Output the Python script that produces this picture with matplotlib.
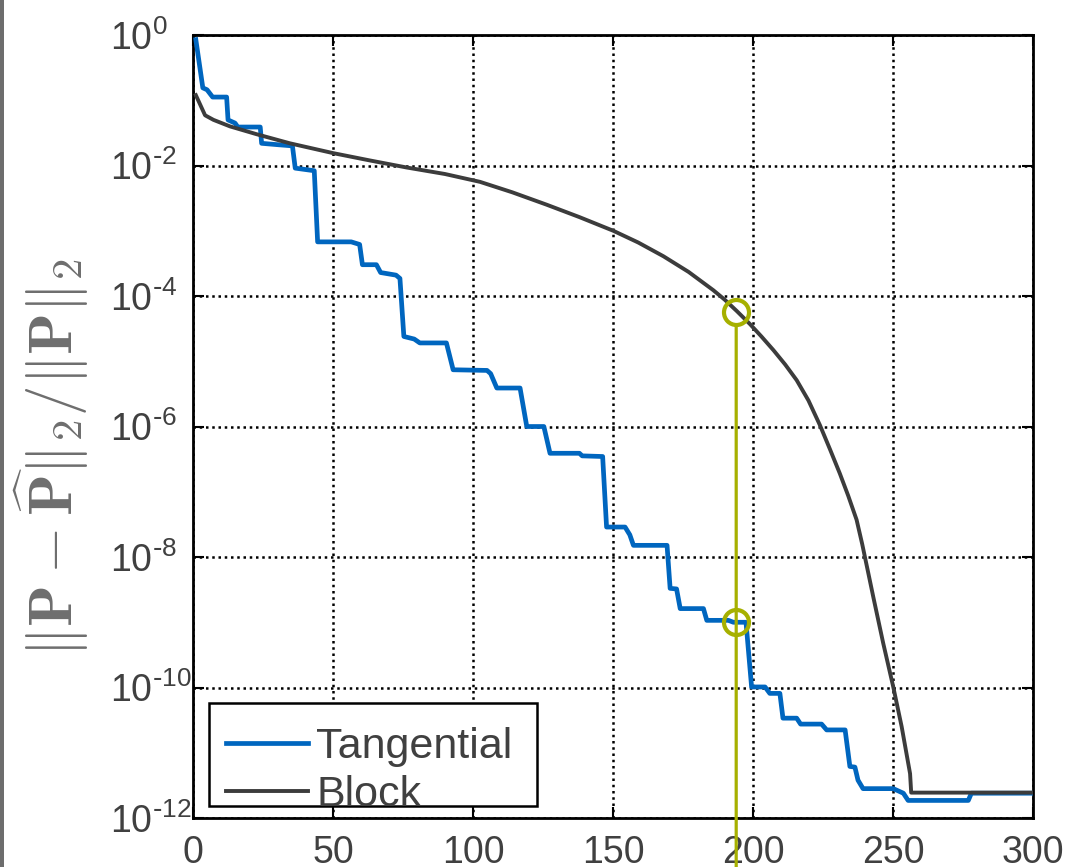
import numpy as np
import matplotlib
matplotlib.use('Agg')
import matplotlib.pyplot as plt
from matplotlib.patches import Rectangle
from matplotlib.ticker import NullLocator, FuncFormatter

plt.rcParams['font.family'] = ['Liberation Sans', 'DejaVu Sans']

# Tangential (blue staircase)
tang_x = [1, 3.5, 5, 7, 12, 12.5, 15, 16, 24, 24.5, 30, 35.5, 36.5, 43.3, 44.5, 56.5,
          59.5, 60.5, 65.5, 67, 72.5, 73.9, 75.3, 79, 81, 90.5, 92.9, 105, 106.3, 108.5,
          116.8, 119.2, 125.3, 127.5, 138, 139, 146.3, 147.7, 154.3, 156, 157.3, 169.3,
          170.4, 172.7, 174, 182.3, 183.5, 191.2, 193, 197.5, 199.5, 204.3, 206, 209.6,
          210.7, 215.6, 217, 224.5, 226.3, 232.9, 234.6, 236.4, 237.5, 239.3, 250.1,
          253.7, 255.4, 276.9, 278, 300]
tang_y = [8.5e-1, 1.55e-1, 1.45e-1, 1.12e-1, 1.12e-1, 5.0e-2, 4.47e-2, 3.89e-2, 3.89e-2,
          2.19e-2, 2.09e-2, 2.0e-2, 9.12e-3, 8.32e-3, 6.76e-4, 6.76e-4, 6.17e-4, 3.02e-4,
          3.02e-4, 2.29e-4, 2.09e-4, 1.86e-4, 2.40e-5, 2.19e-5, 1.91e-5, 1.91e-5, 7.41e-6,
          7.24e-6, 6.46e-6, 3.89e-6, 3.89e-6, 1.0e-6, 1.0e-6, 3.89e-7, 3.89e-7, 3.55e-7,
          3.47e-7, 2.88e-8, 2.88e-8, 2.19e-8, 1.51e-8, 1.51e-8, 3.31e-9, 3.24e-9, 1.62e-9,
          1.62e-9, 1.07e-9, 1.07e-9, 1.0e-9, 1.0e-9, 1.02e-10, 1.02e-10, 8.13e-11, 8.13e-11,
          3.39e-11, 3.39e-11, 2.75e-11, 2.75e-11, 2.24e-11, 2.24e-11, 6.17e-12, 6.03e-12,
          3.80e-12, 2.82e-12, 2.82e-12, 2.40e-12, 1.86e-12, 1.86e-12, 2.40e-12, 2.40e-12]

# Block (dark smooth curve)
block_x = [1, 4.3, 7.3, 13.2, 22.7, 34.6, 50, 63, 76.3, 90, 102.5, 114, 126.3, 138,
           150.1, 159, 168, 177, 185.8, 190, 194.2, 198.9, 203, 207.3, 211.5, 215.6,
           219.8, 223.9, 227.5, 231, 234, 237, 239, 241.2, 243, 246.5, 250.1, 253.1,
           256.1, 256.5, 300]
block_y = [1.20e-1, 5.89e-2, 5.01e-2, 3.98e-2, 3.02e-2, 2.19e-2, 1.55e-2, 1.20e-2,
           9.33e-3, 7.41e-3, 5.62e-3, 3.89e-3, 2.51e-3, 1.62e-3, 1.0e-3, 6.61e-4,
           4.07e-4, 2.34e-4, 1.23e-4, 8.71e-5, 5.89e-5, 3.72e-5, 2.40e-5, 1.48e-5,
           8.91e-6, 5.13e-6, 2.51e-6, 1.05e-6, 4.47e-7, 1.91e-7, 8.71e-8, 3.72e-8,
           1.58e-8, 5.62e-9, 2.40e-9, 4.79e-10, 1.02e-10, 2.51e-11, 4.79e-12, 2.45e-12,
           2.45e-12]

# highlighted iteration
mark_x = [194, 194]
mark_y = [5.75e-5, 1.02e-9]

x_ticks = [0, 50, 100, 150, 200, 250, 300]
y_ticks = [1e0, 1e-2, 1e-4, 1e-6, 1e-8, 1e-10, 1e-12]

blue = '#0066BF'
dark = '#3C3C3C'
green = '#A6B000'
txt = '#404040'

fig = plt.figure(figsize=(10.82, 8.67), dpi=100)
ax = fig.add_axes([0.1784, 0.0565, 0.7763, 0.9031])

ax.plot(tang_x, tang_y, color=blue, lw=3.4, label='Tangential', zorder=3)
ax.plot(block_x, block_y, color=dark, lw=2.8, label='Block', zorder=3)

# vertical marker line, running past the bottom of the axes
ax.annotate('', xy=(mark_x[0], 1e-14), xytext=(mark_x[0], mark_y[0]),
            arrowprops=dict(arrowstyle='-', color=green, lw=2.3, shrinkA=10, shrinkB=0,
                            clip_on=False),
            annotation_clip=False, zorder=6)
ax.plot(mark_x, mark_y, ls='none', marker='o', ms=18, mfc='none', mec=green, mew=3,
        zorder=6)


def exp_label(v, pos):
    e = int(round(np.log10(v)))
    if e < 0:
        return r'$\mathregular{10^{\text{-}%d}}$' % (-e)
    return r'$\mathregular{10^{%d}}$' % e


ax.set_yscale('log')
ax.set_xlim(0, 300)
ax.set_ylim(1e-12, 1)
ax.set_xticks(x_ticks)
ax.set_yticks(y_ticks)
ax.yaxis.set_minor_locator(NullLocator())
ax.yaxis.set_major_formatter(FuncFormatter(exp_label))

ax.grid(True, which='major', color='k', linestyle=(0, (1, 1.5)), linewidth=1.8)
ax.tick_params(direction='in', top=True, right=True, length=8, width=1.5,
               labelsize=27, labelcolor=txt)
ax.tick_params(axis='y', pad=60)
ax.tick_params(axis='x', pad=12)
for lab in ax.get_yticklabels():
    lab.set_horizontalalignment('left')
for s in ax.spines.values():
    s.set_linewidth(2)

ax.set_ylabel(r'$\|\mathbf{P}-\widehat{\mathbf{P}}\|_2/\|\mathbf{P}\|_2$', fontsize=44,
              color='#6e6e6e', math_fontfamily='cm')
ax.yaxis.set_label_coords(-0.122, 0.46)

# legend: box drawn separately so the second label can spill over like the original
ax.add_patch(Rectangle((0.019, 0.0153), 0.390, 0.1315, transform=ax.transAxes,
                       facecolor='white', edgecolor='k', lw=1.8, zorder=4))
ax.legend(loc='center left', bbox_to_anchor=(0.039, 0.060), frameon=False, fontsize=31,
          borderpad=0, borderaxespad=0, handlelength=1.9, handletextpad=0.2,
          labelspacing=0.2, labelcolor=txt)

# grey border line at the left edge of the original screenshot
fig.add_artist(Rectangle((0, 0), 3.5 / 1082, 1, transform=fig.transFigure,
                         facecolor='#6d6d6d', edgecolor='none'))

fig.savefig('out.png', dpi=100)
